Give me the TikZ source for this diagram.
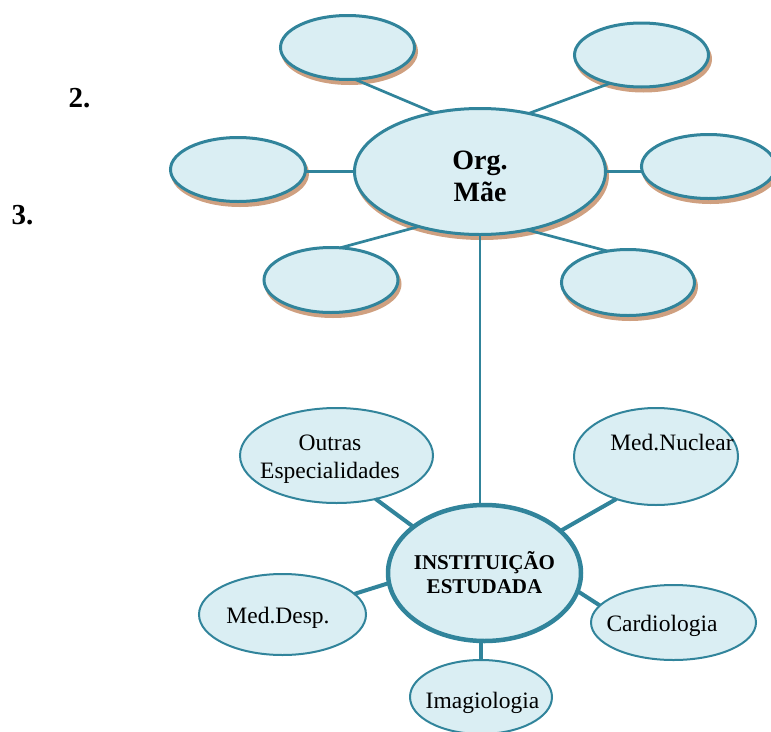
\documentclass[tikz,border=0pt]{standalone}
\usepackage{fontspec}
\setmainfont{Liberation Serif}
\usetikzlibrary{shapes.geometric}
\definecolor{edgeblue}{HTML}{31849B}
\definecolor{paleblue}{HTML}{DAEEF3}
\definecolor{shadowtan}{HTML}{CFA080}
\begin{document}
\begin{tikzpicture}[x=1pt,y=-1pt,
  bubble/.style={ellipse, draw=edgeblue, fill=paleblue, inner sep=0pt, outer sep=0pt},
  upper/.style={bubble, line width=3pt,
    preaction={draw=shadowtan, fill=shadowtan, line width=3pt,
      transform canvas={shift={(2pt,-4pt)}}}},
  lower/.style={bubble, line width=2pt},
  core/.style={bubble, line width=4.5pt},
  thinlink/.style={draw=edgeblue, line width=2.7pt},
  thicklink/.style={draw=edgeblue, line width=4pt},
  lbl/.style={inner sep=0pt, font=\fontsize{23.5}{28}\selectfont, align=center},
  num/.style={inner sep=0pt, font=\fontsize{29}{32}\selectfont\bfseries}
]
\useasboundingbox (0,0) rectangle (771,731);

% parent organisation and its six satellites
\node[upper, minimum width=251pt, minimum height=126pt] (org) at (480,171.5) {};
\node[upper, minimum width=134pt, minimum height=64pt] (tl) at (347.5,47.5) {};
\node[upper, minimum width=134pt, minimum height=64pt] (tr) at (641.5,55) {};
\node[upper, minimum width=135pt, minimum height=64pt] (ml) at (238,169.5) {};
\node[upper, minimum width=134pt, minimum height=64pt] (mr) at (708.5,166.5) {};
\node[upper, minimum width=134pt, minimum height=65pt] (bl) at (331,280) {};
\node[upper, minimum width=133pt, minimum height=66pt] (br) at (628,282.5) {};

% studied institution and its services
\node[core, minimum width=193pt, minimum height=136pt] (inst) at (484.5,573) {};
\node[lower, minimum width=193pt, minimum height=95pt] (outras) at (336.5,455.5) {};
\node[lower, minimum width=164pt, minimum height=97pt] (nuclear) at (656,456.5) {};
\node[lower, minimum width=165pt, minimum height=75pt] (cardio) at (673.5,622.5) {};
\node[lower, minimum width=167pt, minimum height=81pt] (desp) at (282.5,614.5) {};
\node[lower, minimum width=142pt, minimum height=74pt] (imag) at (481,697) {};

% links around the parent organisation
\draw[thinlink] (org.128.9) -- (tl.-77.7);
\draw[thinlink] (org.50) -- (tr.222);
\draw[thinlink] (org.west) -- (org.west -| ml.east);
\draw[thinlink] (org.east) -- (org.east -| mr.west);
\draw[thinlink] (org.222.5) -- (bl.74.7);
\draw[thinlink] (org.309.6) -- (br.123.3);
\draw[thinlink] (org.south) -- (org.south |- inst.north);

% links around the studied institution
\draw[thicklink] (inst.147.2) -- (outras.-48.9);
\draw[thicklink] (inst.29.7) -- (nuclear.227.5);
\draw[thicklink] (inst.186.7) -- (desp.16.5);
\draw[thicklink] (inst.-11.6) -- (cardio.167.7);
\draw[thicklink] (imag.north) -- (imag.north |- inst.south);

% labels
\node[inner sep=0pt, align=center, font=\fontsize{28}{32}\selectfont\bfseries] (orgtxt) at (480,176) {Org.\\Mãe};
\node[inner sep=0pt, align=center, font=\fontsize{21}{24}\selectfont\bfseries] (insttxt) at (484.5,572.5) {INSTITUIÇÃO\\ESTUDADA};
\node[lbl] (outrastxt) at (330,459) {Outras\\Especialidades};
\node[lbl, anchor=base] (nucleartxt) at (672,450) {Med.Nuclear};
\node[lbl, anchor=base] (cardiotxt) at (662,631) {Cardiologia};
\node[lbl, anchor=base] (desptxt) at (278,623) {Med.Desp.};
\node[lbl, anchor=base] (imagtxt) at (482.5,708) {Imagiologia};
\node[num, anchor=base] (two) at (79.5,107) {2.};
\node[num, anchor=base] (three) at (22.5,224) {3.};
\end{tikzpicture}
\end{document}
